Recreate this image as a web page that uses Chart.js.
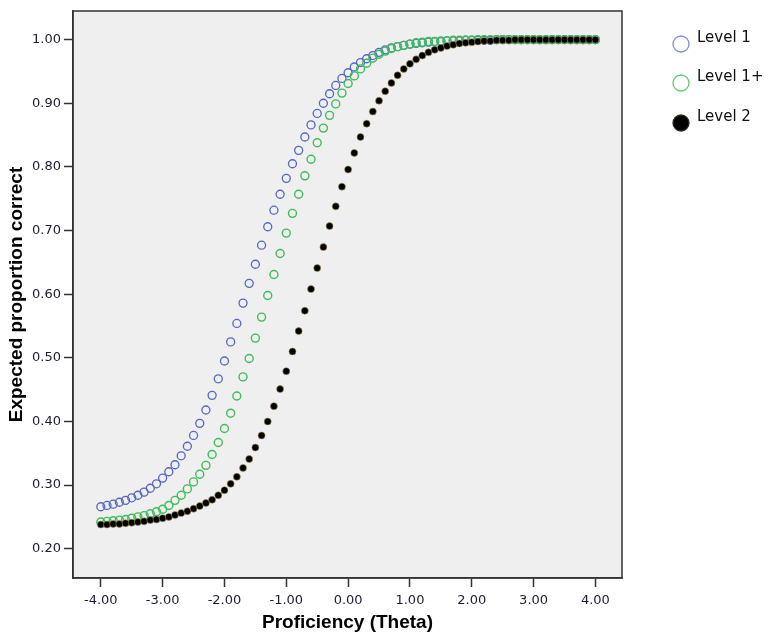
<!DOCTYPE html>
<html>
<head>
<meta charset="utf-8">
<title>Expected proportion correct by proficiency</title>
<script src="https://cdn.jsdelivr.net/npm/chart.js@4.4.1/dist/chart.umd.min.js"></script>
<style>
  html, body { margin: 0; padding: 0; background: #fff; }
  #wrap { width: 768px; height: 634px; }
</style>
</head>
<body>
<div id="wrap"><canvas id="chart" width="768" height="634"></canvas></div>
<script>
// theta grid, step 0.1
const theta = [
  -4.0, -3.9, -3.8, -3.7, -3.6, -3.5, -3.4, -3.3, -3.2, -3.1,
  -3.0, -2.9, -2.8, -2.7, -2.6, -2.5, -2.4, -2.3, -2.2, -2.1,
  -2.0, -1.9, -1.8, -1.7, -1.6, -1.5, -1.4, -1.3, -1.2, -1.1,
  -1.0, -0.9, -0.8, -0.7, -0.6, -0.5, -0.4, -0.3, -0.2, -0.1,
  0.0, 0.1, 0.2, 0.3, 0.4, 0.5, 0.6, 0.7, 0.8, 0.9,
  1.0, 1.1, 1.2, 1.3, 1.4, 1.5, 1.6, 1.7, 1.8, 1.9,
  2.0, 2.1, 2.2, 2.3, 2.4, 2.5, 2.6, 2.7, 2.8, 2.9,
  3.0, 3.1, 3.2, 3.3, 3.4, 3.5, 3.6, 3.7, 3.8, 3.9,
  4.0
]

const level1 = [
  0.266, 0.268, 0.270, 0.273, 0.276, 0.280, 0.284, 0.289, 0.295, 0.302,
  0.311, 0.321, 0.332, 0.346, 0.361, 0.378, 0.397, 0.418, 0.441, 0.467,
  0.495, 0.525, 0.554, 0.586, 0.617, 0.647, 0.677, 0.706, 0.732, 0.757,
  0.782, 0.805, 0.826, 0.847, 0.866, 0.884, 0.900, 0.915, 0.928, 0.939,
  0.948, 0.957, 0.964, 0.970, 0.975, 0.980, 0.984, 0.987, 0.989, 0.991,
  0.993, 0.994, 0.995, 0.996, 0.997, 0.997, 0.998, 0.998, 0.998, 0.999,
  0.999, 0.999, 0.999, 0.999, 1.000, 1.000, 1.000, 1.000, 1.000, 1.000,
  1.000, 1.000, 1.000, 1.000, 1.000, 1.000, 1.000, 1.000, 1.000, 1.000,
  1.000
]

const level1plus = [
  0.242, 0.243, 0.244, 0.245, 0.246, 0.248, 0.250, 0.252, 0.255, 0.258,
  0.262, 0.268, 0.276, 0.284, 0.294, 0.305, 0.317, 0.331, 0.348, 0.367,
  0.389, 0.413, 0.440, 0.470, 0.499, 0.531, 0.564, 0.598, 0.631, 0.664,
  0.696, 0.727, 0.757, 0.786, 0.812, 0.838, 0.861, 0.881, 0.899, 0.916,
  0.931, 0.943, 0.954, 0.963, 0.971, 0.977, 0.982, 0.986, 0.989, 0.991,
  0.993, 0.995, 0.996, 0.997, 0.997, 0.998, 0.998, 0.999, 0.999, 0.999,
  0.999, 1.000, 1.000, 1.000, 1.000, 1.000, 1.000, 1.000, 1.000, 1.000,
  1.000, 1.000, 1.000, 1.000, 1.000, 1.000, 1.000, 1.000, 1.000, 1.000,
  1.000
]

const level2 = [
  0.238, 0.238, 0.239, 0.239, 0.240, 0.241, 0.242, 0.243, 0.245, 0.246,
  0.248, 0.250, 0.253, 0.256, 0.259, 0.263, 0.267, 0.272, 0.277, 0.284,
  0.292, 0.302, 0.313, 0.327, 0.341, 0.359, 0.378, 0.400, 0.424, 0.451,
  0.479, 0.510, 0.542, 0.574, 0.608, 0.641, 0.674, 0.707, 0.738, 0.769,
  0.796, 0.822, 0.847, 0.868, 0.887, 0.904, 0.919, 0.932, 0.944, 0.954,
  0.962, 0.969, 0.975, 0.980, 0.984, 0.987, 0.990, 0.992, 0.994, 0.995,
  0.996, 0.997, 0.998, 0.998, 0.999, 0.999, 0.999, 1.000, 1.000, 1.000,
  1.000, 1.000, 1.000, 1.000, 1.000, 1.000, 1.000, 1.000, 1.000, 1.000,
  1.000
]

const xTicks = [-4, -3, -2, -1, 0, 1, 2, 3, 4]
const yTicks = [0.2, 0.3, 0.4, 0.5, 0.6, 0.7, 0.8, 0.9, 1.0]

const toPoints = (ys) => theta.map((x, i) => ({ x: x, y: ys[i] }))

// grey plot panel with a dark frame
const panel = {
  id: 'panel',
  beforeDraw(chart) {
    const { ctx, chartArea: a } = chart
    ctx.save()
    ctx.fillStyle = '#efefef'
    ctx.fillRect(a.left, a.top, a.right - a.left, a.bottom - a.top)
    ctx.restore()
  },
  afterDraw(chart) {
    const { ctx, chartArea: a } = chart
    ctx.save()
    ctx.strokeStyle = '#333'
    ctx.lineWidth = 1.5
    ctx.strokeRect(a.left, a.top, a.right - a.left, a.bottom - a.top)
    ctx.restore()
  }
}

// legend to the right, label text sits a little above its marker
const sideLegend = {
  id: 'sideLegend',
  afterDraw(chart) {
    const { ctx } = chart
    const rows = [
      { y: 44, stroke: '#8490d4', fill: null },
      { y: 83, stroke: '#5cc878', fill: null },
      { y: 123, stroke: '#2a2a1a', fill: '#000' }
    ]
    ctx.save()
    chart.data.datasets.forEach((ds, i) => {
      const r = rows[i]
      ctx.beginPath()
      ctx.arc(681, r.y, 8, 0, Math.PI * 2)
      if (r.fill) {
        ctx.fillStyle = r.fill
        ctx.fill()
      }
      ctx.lineWidth = 1.3
      ctx.strokeStyle = r.stroke
      ctx.stroke()
      ctx.fillStyle = '#111'
      ctx.font = '15px "DejaVu Sans"'
      ctx.textBaseline = 'middle'
      ctx.textAlign = 'left'
      ctx.fillText(ds.label, 697, r.y - 6)
    })
    ctx.restore()
  }
}

const tickFont = { family: 'DejaVu Sans', size: 13 }
const titleFont = { family: 'Liberation Sans', size: 19, weight: 'bold' }

new Chart(document.getElementById('chart').getContext('2d'), {
  type: 'scatter',
  data: {
    datasets: [
      {
        label: 'Level 1',
        data: toPoints(level1),
        pointStyle: 'circle',
        pointRadius: 4,
        borderWidth: 1.3,
        borderColor: '#5466c2',
        backgroundColor: 'rgba(0,0,0,0)',
        order: 3
      },
      {
        label: 'Level 1+',
        data: toPoints(level1plus),
        pointStyle: 'circle',
        pointRadius: 4,
        borderWidth: 1.4,
        borderColor: '#3dbd5a',
        backgroundColor: 'rgba(0,0,0,0)',
        order: 2
      },
      {
        label: 'Level 2',
        data: toPoints(level2),
        pointStyle: 'circle',
        pointRadius: 3.5,
        borderWidth: 1,
        borderColor: 'rgba(170,150,80,0.55)',
        backgroundColor: '#000',
        order: 1
      }
    ]
  },
  options: {
    responsive: false,
    animation: false,
    events: [],
    layout: {
      padding: { top: 11, right: 146, bottom: 0, left: 0 }
    },
    scales: {
      x: {
        type: 'linear',
        min: -4.45,
        max: 4.43,
        afterBuildTicks: (s) => { s.ticks = xTicks.map(v => ({ value: v })) },
        afterFit: (s) => { s.height = 56 },
        ticks: {
          font: tickFont,
          color: '#1c1c2c',
          padding: 6,
          maxRotation: 0,
          autoSkip: false,
          callback: (v) => v.toFixed(2)
        },
        grid: {
          drawOnChartArea: false,
          drawTicks: true,
          tickLength: 9,
          tickColor: '#333',
          tickWidth: 1.5
        },
        border: { display: true, color: '#333', width: 1.5 },
        title: {
          display: true,
          text: 'Proficiency (Theta)',
          font: titleFont,
          color: '#000',
          padding: { top: 0, bottom: 0 }
        }
      },
      y: {
        type: 'linear',
        min: 0.154,
        max: 1.045,
        afterBuildTicks: (s) => { s.ticks = yTicks.map(v => ({ value: v })) },
        afterFit: (s) => { s.width = 73 },
        ticks: {
          font: tickFont,
          color: '#1c1c2c',
          padding: 3,
          autoSkip: false,
          callback: (v) => v.toFixed(2)
        },
        grid: {
          drawOnChartArea: false,
          drawTicks: true,
          tickLength: 9,
          tickColor: '#333',
          tickWidth: 1.5
        },
        border: { display: true, color: '#333', width: 1.5 },
        title: {
          display: true,
          text: 'Expected proportion correct',
          font: titleFont,
          color: '#000',
          padding: { top: 5, bottom: 0 }
        }
      }
    },
    plugins: {
      legend: { display: false },
      tooltip: { enabled: false }
    }
  },
  plugins: [panel, sideLegend]
})
</script>
</body>
</html>
